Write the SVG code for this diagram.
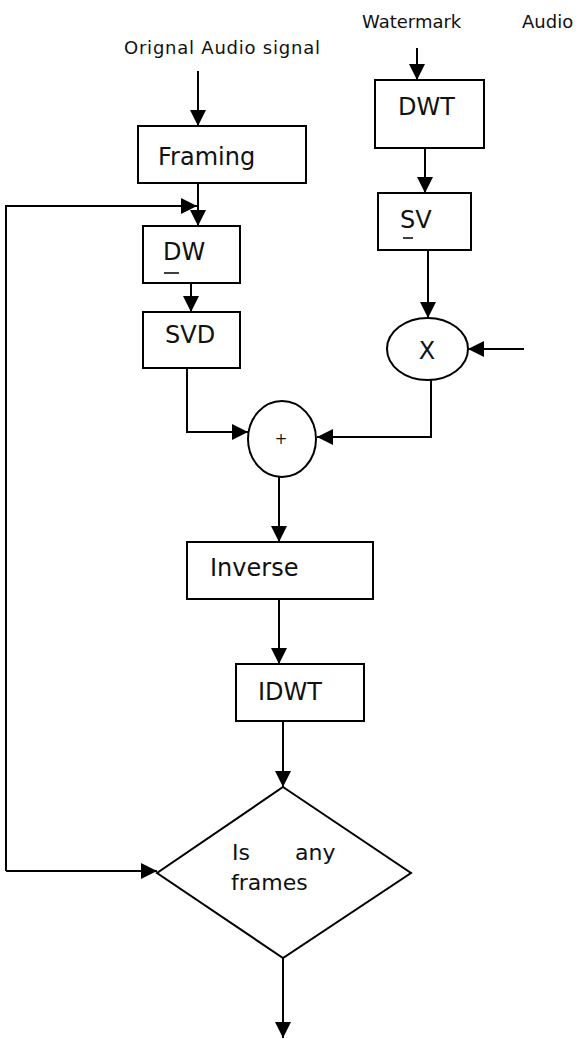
<svg xmlns="http://www.w3.org/2000/svg" width="580" height="1039" viewBox="0 0 580 1039">
<style>
.box{fill:#fff;stroke:#000;stroke-width:2}
.shape{fill:#fff;stroke:#000;stroke-width:2}
.ln{fill:none;stroke:#000;stroke-width:2}
.t{font-family:"DejaVu Sans",sans-serif;fill:#111}
.lab{font-size:18px}
.big{font-size:24px}
.dash{stroke:#000;stroke-width:1.5}
</style>
<defs>
<marker id="ah" markerUnits="userSpaceOnUse" markerWidth="16" markerHeight="16" refX="16" refY="8" orient="auto">
<path d="M0,0 L16,8 L0,16 z" fill="#000"/>
</marker>
</defs>
<rect width="580" height="1039" fill="#fff"/>
<g id="labels">
<text class="t lab" x="124" y="54" textLength="196" lengthAdjust="spacing">Orignal Audio signal</text>
<text class="t lab" x="362" y="28">Watermark</text>
<text class="t lab" x="522" y="28">Audio</text>
</g>
<g id="connectors">
<path class="ln" d="M198,71 V126" marker-end="url(#ah)"/>
<path class="ln" d="M198,183 V226" marker-end="url(#ah)"/>
<path class="ln" d="M6,871 H157" marker-end="url(#ah)"/>
<path class="ln" d="M6,871 V206 H197" marker-end="url(#ah)"/>
<path class="ln" d="M417,48 V80" marker-end="url(#ah)"/>
<path class="ln" d="M425,148 V193" marker-end="url(#ah)"/>
<path class="ln" d="M428,250 V318" marker-end="url(#ah)"/>
<path class="ln" d="M524,349 H468" marker-end="url(#ah)"/>
<path class="ln" d="M431,380 V437 H317" marker-end="url(#ah)"/>
<path class="ln" d="M191,283 V312" marker-end="url(#ah)"/>
<path class="ln" d="M187,368 V432 H248" marker-end="url(#ah)"/>
<path class="ln" d="M279,477 V542" marker-end="url(#ah)"/>
<path class="ln" d="M279,599 V664" marker-end="url(#ah)"/>
<path class="ln" d="M283,721 V787" marker-end="url(#ah)"/>
<path class="ln" d="M283,958 V1038" marker-end="url(#ah)"/>
</g>
<g id="framing">
<rect class="box" x="138" y="126" width="168" height="57"/>
<text class="t big" x="158" y="165">Framing</text>
</g>
<g id="dw">
<rect class="box" x="143" y="226" width="97" height="57"/>
<text class="t big" x="163" y="260">DW</text>
<line class="dash" x1="164" y1="273" x2="179" y2="273"/>
</g>
<g id="svd">
<rect class="box" x="143" y="312" width="97" height="56"/>
<text class="t big" x="165" y="343">SVD</text>
</g>
<g id="dwt">
<rect class="box" x="375" y="80" width="109" height="68"/>
<text class="t big" x="398" y="115">DWT</text>
</g>
<g id="sv">
<rect class="box" x="378" y="193" width="93" height="57"/>
<text class="t big" x="400" y="228">SV</text>
<line class="dash" x1="403" y1="238" x2="413" y2="238"/>
</g>
<g id="mult">
<ellipse class="shape" cx="427.5" cy="349" rx="40.5" ry="31"/>
<text class="t big" x="427" y="359" text-anchor="middle">X</text>
</g>
<g id="sum">
<ellipse class="shape" cx="282" cy="439" rx="34" ry="38"/>
<text class="t" x="281" y="444" font-size="15" text-anchor="middle">+</text>
</g>
<g id="inverse">
<rect class="box" x="187" y="542" width="186" height="57"/>
<text class="t big" x="210" y="576">Inverse</text>
</g>
<g id="idwt">
<rect class="box" x="236" y="664" width="128" height="57"/>
<text class="t big" x="258" y="700">IDWT</text>
</g>
<g id="decision">
<polygon class="shape" stroke-width="1.5" points="283,787 411,873 283,958 157,873"/>
<text class="t" font-size="22" y="860"><tspan x="232">Is</tspan><tspan x="295">any</tspan></text>
<text class="t" font-size="22" x="231" y="890">frames</text>
</g>
</svg>
